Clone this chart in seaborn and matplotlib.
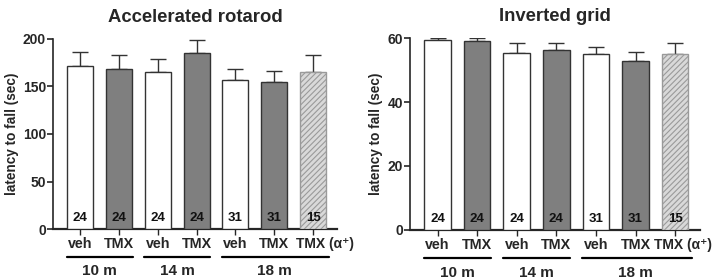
import numpy as np
import pandas as pd
import seaborn as sns
import matplotlib.pyplot as plt
import matplotlib.transforms as mtransforms

# bar groups (age) and treatment labels
groups = ['10 m', '14 m', '18 m']
group_idx = [(0, 1), (2, 3), (4, 6)]
conds = ['veh', 'TMX', 'veh', 'TMX', 'veh', 'TMX', 'TMX (α⁺)']
n_mice = [24, 24, 24, 24, 31, 31, 15]

# accelerated rotarod: mean and upper SEM (sec)
rotarod_mean = [172, 168, 165, 185, 157, 155, 165]
rotarod_err = [14, 15, 14, 14, 11, 11, 18]

# inverted grid: mean and upper SEM (sec)
grid_mean = [59.3, 59.2, 55.3, 56.3, 55.0, 52.7, 55.1]
grid_err = [0.8, 0.9, 3.1, 2.2, 2.1, 3.0, 3.4]

fills = ['white', '#7f7f7f', 'white', '#7f7f7f', 'white', '#7f7f7f', '#d9d9d9']

sns.set_style('ticks')
plt.rcParams['font.family'] = ['Liberation Sans', 'DejaVu Sans']
plt.rcParams['font.weight'] = 'bold'
plt.rcParams['hatch.linewidth'] = 0.8


def draw_panel(ax, means, errs, title, yticks, ymax, shift):
    keys = ['b%d' % i for i in range(len(means))]
    df = pd.DataFrame({'key': keys, 'val': means})
    sns.barplot(data=df, x='key', y='val', hue='key', order=keys,
                palette=dict(zip(keys, fills)), legend=False, width=0.67,
                edgecolor='#333333', linewidth=1.0, errorbar=None, ax=ax,
                zorder=3)
    bars = ax.patches
    # hatched last bar
    bars[-1].set_hatch('//////')
    bars[-1].set_edgecolor('#9a9a9a')
    ax.errorbar(range(len(means)), means,
                yerr=[np.zeros(len(errs)), errs], fmt='none',
                ecolor='#333333', elinewidth=1.0, capsize=5.5, capthick=1.0,
                zorder=2)
    for i, n in enumerate(n_mice):
        ax.text(i, ymax * 0.025, str(n), ha='center', va='bottom',
                fontsize=9.5, fontweight='bold', color='#111111', zorder=4)
    ax.set_xlim(-0.7, 6.62)
    ax.set_ylim(0, ymax)
    ax.set_yticks(yticks)
    ax.set_xticks(range(len(conds)))
    ax.set_xticklabels(conds, fontsize=10.3, fontweight='bold')
    ax.tick_params(axis='x', length=4, width=1.0, pad=2)
    ax.tick_params(axis='y', labelsize=10, length=4, width=1.2, pad=1)
    for lab in ax.get_yticklabels():
        lab.set_fontweight('bold')
    # last label sits to the right of its bar
    last = ax.get_xticklabels()[-1]
    last.set_fontsize(10)
    last.set_transform(last.get_transform() +
                       mtransforms.ScaledTranslation(shift, 0, ax.figure.dpi_scale_trans))
    ax.set_xlabel('')
    ax.set_ylabel('latency to fall (sec)', fontsize=9.8, fontweight='bold',
                  labelpad=3)
    ax.set_title(title, fontsize=13.3, fontweight='bold', pad=12)
    sns.despine(ax=ax)
    ax.spines['left'].set_linewidth(1.2)
    ax.spines['bottom'].set_linewidth(1.6)
    trans = mtransforms.blended_transform_factory(ax.transData, ax.transAxes)
    for g, (a, b) in zip(groups, group_idx):
        right = b + (0.42 if b == 6 else 0.35)
        ax.plot([a - 0.35, right], [-0.147, -0.147], color='black', lw=1.6,
                transform=trans, clip_on=False)
        ax.text((a + b) / 2, -0.243, g, ha='center', va='baseline',
                fontsize=11, fontweight='bold', transform=trans)


fig = plt.figure(figsize=(7.14, 2.78), dpi=100)
ax1 = fig.add_axes([0.0742, 0.176, 0.398, 0.684])
ax2 = fig.add_axes([0.574, 0.173, 0.406, 0.690])

draw_panel(ax1, rotarod_mean, rotarod_err, 'Accelerated rotarod',
           [0, 50, 100, 150, 200], 200, 0.12)
draw_panel(ax2, grid_mean, grid_err, 'Inverted grid',
           [0, 20, 40, 60], 60, 0.08)

fig.savefig('out.png', dpi=100)
